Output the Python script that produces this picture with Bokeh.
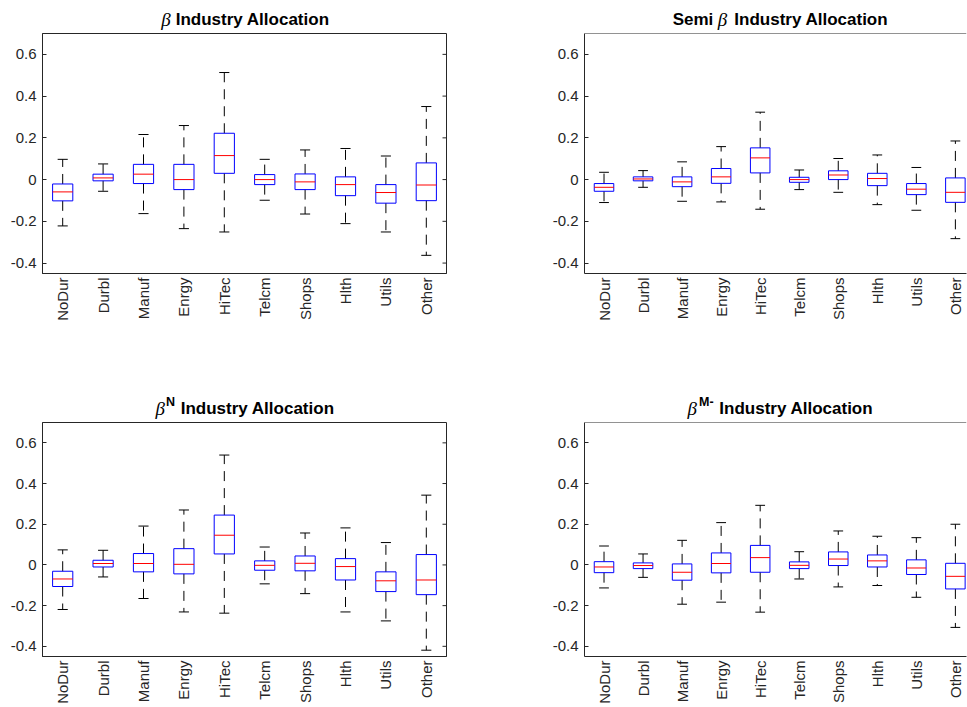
import numpy as np
from bokeh.plotting import figure
from bokeh.models import FixedTicker, Range1d, Span, Div
from bokeh.layouts import column, row
from bokeh.embed import file_html
from bokeh.resources import INLINE

industries = ["NoDur", "Durbl", "Manuf", "Enrgy", "HiTec", "Telcm", "Shops", "Hlth", "Utils", "Other"]
y_ticks = [-0.4, -0.2, 0.0, 0.2, 0.4, 0.6]
y_tick_labels = ["-0.4", "-0.2", "0", "0.2", "0.4", "0.6"]

# Panel 1: beta
beta_upper = [0.097, 0.075, 0.216, 0.259, 0.513, 0.097, 0.142, 0.149, 0.113, 0.350]
beta_q3 = [-0.021, 0.026, 0.073, 0.073, 0.222, 0.024, 0.027, 0.013, -0.024, 0.080]
beta_med = [-0.059, 0.008, 0.026, 0.000, 0.115, 0.000, -0.011, -0.024, -0.062, -0.026]
beta_q1 = [-0.102, -0.006, -0.019, -0.048, 0.030, -0.024, -0.048, -0.077, -0.113, -0.101]
beta_lower = [-0.222, -0.056, -0.163, -0.235, -0.251, -0.099, -0.165, -0.211, -0.251, -0.363]

# Panel 2: semi beta
semi_upper = [0.035, 0.043, 0.085, 0.158, 0.323, 0.046, 0.101, 0.118, 0.058, 0.185]
semi_q3 = [-0.019, 0.013, 0.013, 0.053, 0.152, 0.011, 0.042, 0.030, -0.019, 0.008]
semi_med = [-0.037, 0.003, -0.011, 0.013, 0.104, 0.000, 0.022, 0.005, -0.046, -0.061]
semi_q1 = [-0.056, -0.006, -0.034, -0.018, 0.032, -0.013, 0.000, -0.029, -0.072, -0.109]
semi_lower = [-0.110, -0.037, -0.104, -0.107, -0.142, -0.048, -0.061, -0.120, -0.147, -0.283]

# Panel 3: beta N
betaN_upper = [0.074, 0.072, 0.191, 0.270, 0.540, 0.088, 0.157, 0.182, 0.110, 0.343]
betaN_q3 = [-0.031, 0.023, 0.056, 0.080, 0.245, 0.020, 0.044, 0.031, -0.034, 0.051]
betaN_med = [-0.069, 0.007, 0.007, 0.003, 0.146, -0.002, 0.008, -0.008, -0.078, -0.074]
betaN_q1 = [-0.106, -0.010, -0.034, -0.044, 0.054, -0.026, -0.029, -0.074, -0.131, -0.146]
betaN_lower = [-0.219, -0.059, -0.165, -0.231, -0.237, -0.093, -0.141, -0.231, -0.275, -0.419]

# Panel 4: beta M-
betaM_upper = [0.093, 0.054, 0.121, 0.208, 0.293, 0.065, 0.167, 0.141, 0.134, 0.200]
betaM_q3 = [0.016, 0.010, 0.005, 0.059, 0.096, 0.015, 0.064, 0.049, 0.025, 0.008]
betaM_med = [-0.010, -0.003, -0.036, 0.007, 0.036, -0.002, 0.029, 0.020, -0.015, -0.056]
betaM_q1 = [-0.038, -0.018, -0.075, -0.039, -0.036, -0.018, -0.003, -0.010, -0.047, -0.118]
betaM_lower = [-0.113, -0.061, -0.193, -0.183, -0.232, -0.069, -0.108, -0.101, -0.159, -0.307]

AX = "#262626"
SANS = "Liberation Sans"
SERIF = "Liberation Serif"
TOP_GAP = 3

# baseline offset (fraction of font size) for line-height:1 boxes
ASC = {SANS: 0.8465, SERIF: 0.8375}


def make_title(width, height, parts, baseline_px):
    spans = []
    for text, px, raise_px, font, style, size in parts:
        top = baseline_px - raise_px - ASC[font] * size
        weight = "bold" if style == "bold" else "normal"
        fstyle = "italic" if style == "italic" else "normal"
        spans.append(
            f'<span style="position:absolute;left:{px:.1f}px;top:{top:.1f}px;'
            f"font-family:'{font}';font-size:{size}px;font-weight:{weight};"
            f'font-style:{fstyle};line-height:1;white-space:nowrap;color:#000;">'
            f"{text}</span>")
    html = (f'<div style="position:relative;width:{width}px;height:{height}px;'
            f'margin:0;padding:0;overflow:visible;">' + "".join(spans) + "</div>")
    return Div(text=html, width=width, height=height, margin=(0, 0, 0, 0))


def make_panel(stats, width, height, b_left, b_right, b_top, b_bottom, x_end,
               left_side, title_parts):
    upper, q3, med, q1, lower = stats
    y0, y1 = -0.45, 0.7
    p = figure(width=width, height=height - (b_top - TOP_GAP),
               x_range=Range1d(0.5, x_end), y_range=Range1d(y0, y1),
               output_backend="svg", toolbar_location=None,
               min_border_left=b_left, min_border_right=b_right,
               min_border_top=TOP_GAP, min_border_bottom=b_bottom)
    p.grid.visible = False
    p.background_fill_color = "white"
    p.border_fill_color = "white"

    pos = np.arange(1, len(industries) + 1, dtype=float)
    frame_w = width - b_left - b_right
    xpp = (x_end - 0.5) / frame_w

    xa = p.xaxis[0]
    xa.ticker = FixedTicker(ticks=list(pos))
    xa.major_label_overrides = {int(k): n for k, n in zip(pos, industries)}
    xa.major_label_orientation = np.pi / 2
    xa.major_tick_in = 0
    xa.major_tick_out = 0
    xa.minor_tick_in = 0
    xa.minor_tick_out = 0
    xa.major_label_standoff = 4
    xa.major_label_text_font = SANS
    xa.major_label_text_font_size = "15px"
    xa.major_label_text_color = AX
    xa.axis_line_color = AX

    ya = p.yaxis[0]
    ya.ticker = FixedTicker(ticks=y_ticks)
    ya.major_label_overrides = {t: s for t, s in zip(y_ticks, y_tick_labels)}
    ya.major_tick_in = 4
    ya.major_tick_out = 0
    ya.minor_tick_in = 0
    ya.minor_tick_out = 0
    ya.major_label_standoff = 6
    ya.major_label_text_font = SANS
    ya.major_label_text_font_size = "15px"
    ya.major_label_text_color = AX
    ya.axis_line_color = AX
    ya.major_tick_line_color = AX

    if left_side:
        p.outline_line_color = AX
        n = len(y_ticks)
        p.segment(x0=[x_end] * n, y0=y_ticks, x1=[x_end - 4 * xpp] * n, y1=y_ticks,
                  line_color=AX, line_width=1)
    else:
        p.outline_line_color = None
        p.add_layout(Span(location=y1, dimension="width", line_color=AX, line_width=1))

    # whiskers (dashed)
    p.segment(x0=pos, y0=q3, x1=pos, y1=upper, line_color="black",
              line_width=1, line_dash="10 7")
    p.segment(x0=pos, y0=q1, x1=pos, y1=lower, line_color="black",
              line_width=1, line_dash="10 7")
    # caps
    p.segment(x0=pos - 0.125, y0=upper, x1=pos + 0.125, y1=upper,
              line_color="black", line_width=1)
    p.segment(x0=pos - 0.125, y0=lower, x1=pos + 0.125, y1=lower,
              line_color="black", line_width=1)
    # boxes
    p.vbar(x=pos, width=0.5, top=q3, bottom=q1, fill_color=None,
           line_color="#0000FF", line_width=1)
    # medians
    p.segment(x0=pos - 0.25, y0=med, x1=pos + 0.25, y1=med,
              line_color="#FF0000", line_width=1)

    t = make_title(width, b_top - TOP_GAP, title_parts, b_top - 7.5)
    return column(t, p, spacing=0)


t1 = [("β", 161.2, 0, SERIF, "italic", 19),
      ("Industry Allocation", 175.7, 0, SANS, "bold", 17)]
t2 = [("Semi", 192.7, 0, SANS, "bold", 17),
      ("β", 237.8, 0, SERIF, "italic", 19),
      ("Industry Allocation", 254.3, 0, SANS, "bold", 17)]
t3 = [("β", 155.5, 0, SERIF, "italic", 19),
      ("N", 166.0, 8, SANS, "bold", 12.5),
      ("Industry Allocation", 180.7, 0, SANS, "bold", 17)]
t4 = [("β", 207.5, 0, SERIF, "italic", 19),
      ("M-", 219.0, 8, SANS, "bold", 12.5),
      ("Industry Allocation", 239.3, 0, SANS, "bold", 17)]

right_x_end = 0.5 + 382 / 39.04

p1 = make_panel((beta_upper, beta_q3, beta_med, beta_q1, beta_lower),
                480, 390, 42, 34, 33, 117, 10.5, True, t1)
p2 = make_panel((semi_upper, semi_q3, semi_med, semi_q1, semi_lower),
                487, 390, 104, 1, 33, 117, right_x_end, False, t2)
p3 = make_panel((betaN_upper, betaN_q3, betaN_med, betaN_q1, betaN_lower),
                480, 317, 42, 34, 32, 51, 10.5, True, t3)
p4 = make_panel((betaM_upper, betaM_q3, betaM_med, betaM_q1, betaM_lower),
                487, 317, 104, 1, 32, 51, right_x_end, False, t4)

layout = column(row(p1, p2, spacing=0), row(p3, p4, spacing=0), spacing=0)
open("out.html", "w").write(file_html(layout, INLINE))
